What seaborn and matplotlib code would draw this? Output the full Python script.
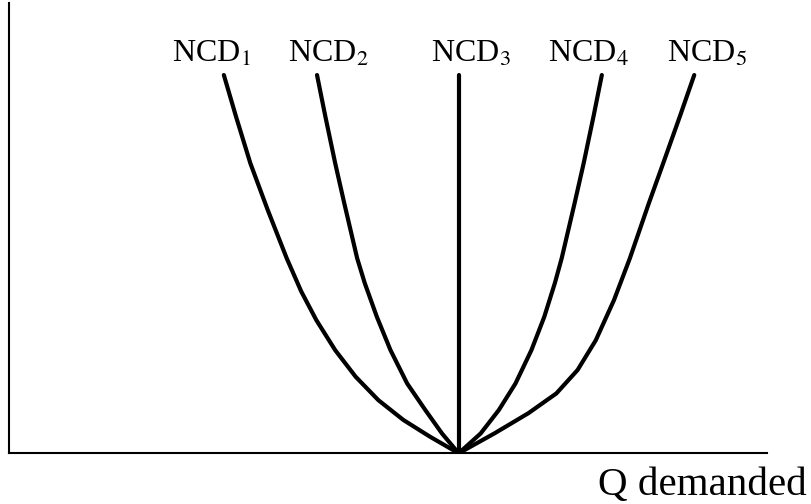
import numpy as np
import pandas as pd
import matplotlib
matplotlib.use('Agg')
import matplotlib.pyplot as plt
import seaborn as sns

# points (Q on x, price on y, both on a 0-100 scale)
ncd1_q = [28.3, 29.9, 31.8, 34.1, 36.6, 38.5, 40.5, 43.0, 45.7, 48.7, 52.0, 55.5, 59.3]
ncd1_p = [84.0, 74.8, 64.4, 54.0, 43.3, 36.0, 29.6, 22.9, 17.0, 11.8, 7.4, 3.7, 0.0]

ncd2_q = [40.6, 41.7, 43.0, 44.2, 45.9, 46.9, 48.5, 50.3, 52.5, 54.9, 57.1, 59.3]
ncd2_p = [84.0, 74.8, 64.4, 55.5, 43.3, 37.8, 30.3, 22.9, 15.5, 9.6, 4.4, 0.0]

ncd3_q = [59.3, 59.3]
ncd3_p = [84.0, 0.0]

ncd4_q = [78.2, 77.1, 75.8, 74.6, 72.9, 72.0, 70.6, 68.9, 66.8, 64.6, 62.2, 59.3]
ncd4_p = [84.0, 74.8, 64.4, 55.5, 43.3, 37.8, 30.3, 22.9, 15.5, 9.6, 4.4, 0.0]

ncd5_q = [90.4, 88.5, 86.3, 84.4, 81.9, 79.8, 77.4, 75.0, 72.2, 68.5, 64.0, 59.3]
ncd5_p = [84.0, 74.8, 64.4, 55.5, 43.3, 34.0, 25.1, 18.5, 13.3, 8.9, 4.4, 0.0]

labels = ['NCD$_1$', 'NCD$_2$', 'NCD$_3$', 'NCD$_4$', 'NCD$_5$']
label_q = [21.4, 36.8, 55.7, 71.1, 86.8]
label_p = 87.0

sns.set_theme(style='white')
plt.rcParams['font.family'] = ['Liberation Serif', 'DejaVu Serif']
plt.rcParams['mathtext.fontset'] = 'stix'

fig = plt.figure(figsize=(8.11, 5.04), dpi=100)
ax = fig.add_axes([0.0117, 0.1006, 0.934, 0.8935])

curves = [(ncd1_q, ncd1_p), (ncd2_q, ncd2_p), (ncd3_q, ncd3_p),
          (ncd4_q, ncd4_p), (ncd5_q, ncd5_p)]
for q, p in curves:
    sns.lineplot(x=q, y=p, sort=False, estimator=None, color='black', lw=3,
                 solid_joinstyle='round', ax=ax)

for lab, q in zip(labels, label_q):
    ax.text(q, label_p, lab, fontsize=23, ha='left', va='baseline', color='black')

ax.set_xlim(0, 100)
ax.set_ylim(0, 100)
ax.set_xticks([])
ax.set_yticks([])
for side in ['top', 'right']:
    ax.spines[side].set_visible(False)
for side in ['left', 'bottom']:
    ax.spines[side].set_color('black')
    ax.spines[side].set_linewidth(1.5)

fig.text(806.7 / 811, 9 / 504, 'Q demanded', fontsize=29.5, ha='right', va='baseline', color='black')

fig.savefig('out.png', dpi=100, facecolor='white')
